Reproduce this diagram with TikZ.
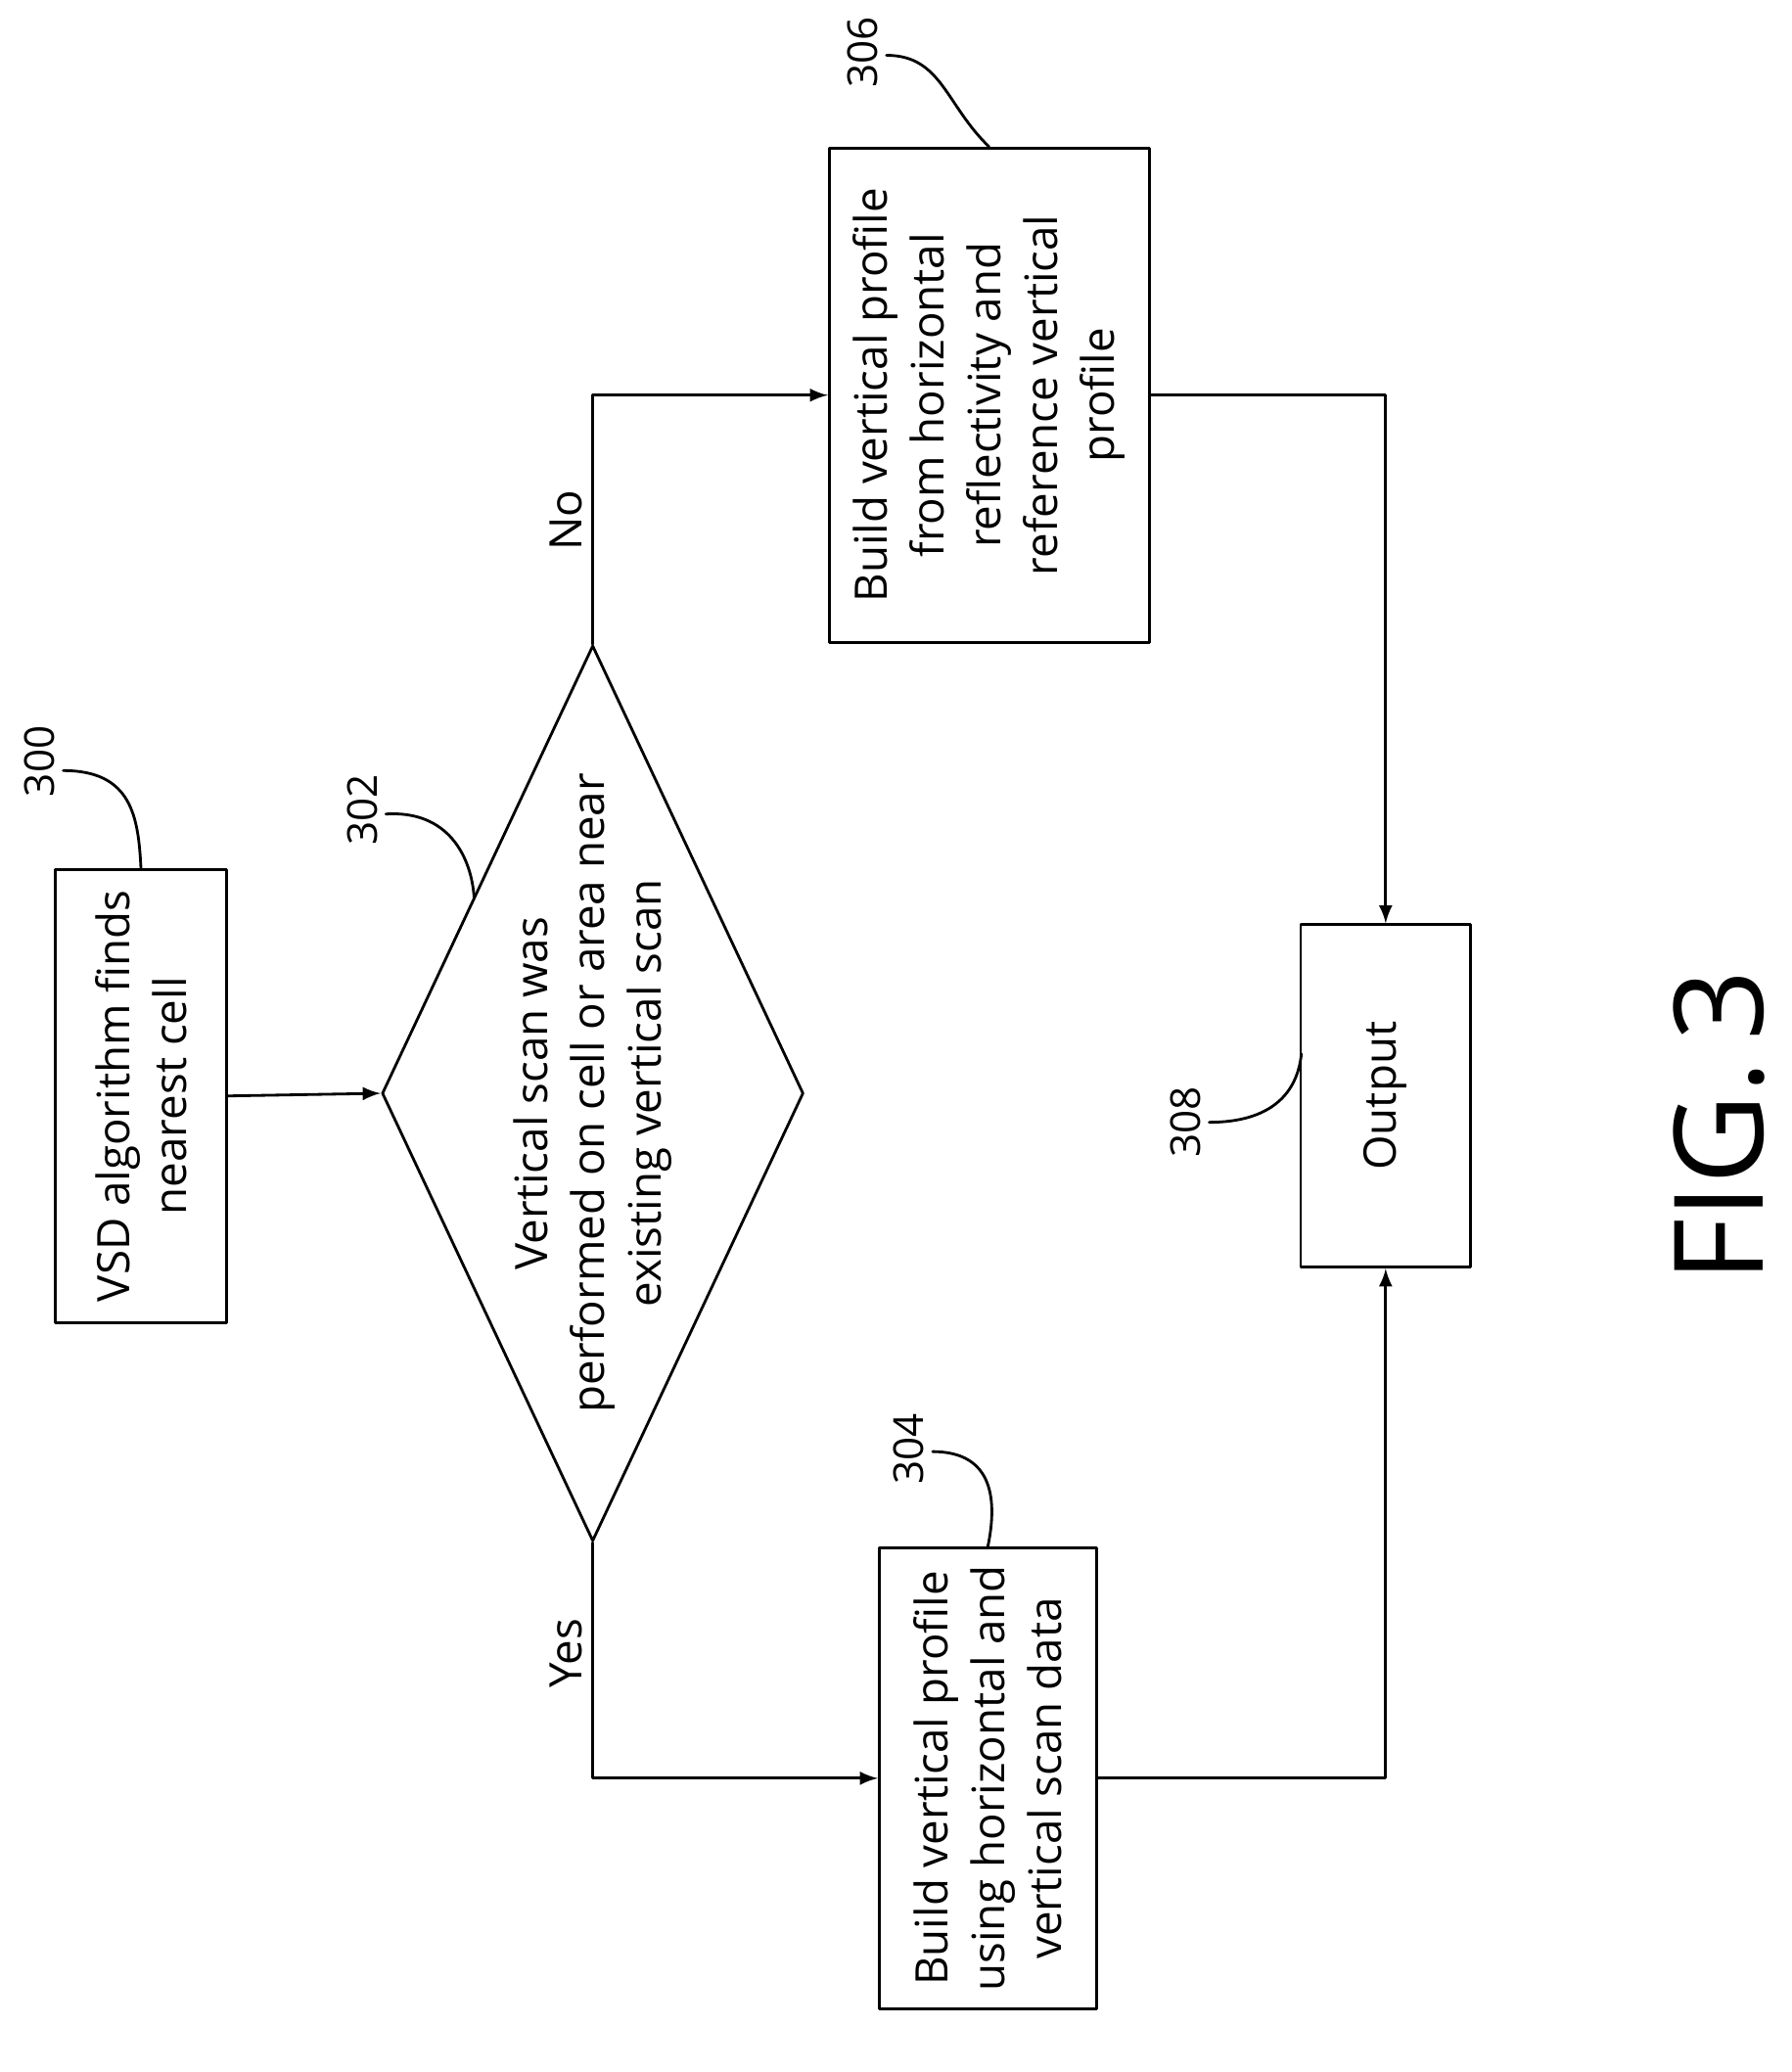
\documentclass[tikz,border=0pt]{standalone}
\usepackage{fontspec}
\setmainfont{Open Sans}
\usetikzlibrary{shapes.geometric}
\def\pxu{0.01346cm}
\tikzset{
  box/.style={draw, thick, rectangle, rotate=90, align=center, inner sep=2pt},
  lbl/.style={rotate=90, font=\fontsize{12}{14}\selectfont},
  flow/.style={thick, -latex},
  lead/.style={thick}
}
\begin{document}
\begin{tikzpicture}[x=\pxu, y=-\pxu, line cap=round, line join=round,
  font=\fontsize{13}{16.5}\selectfont]
  \useasboundingbox (0,0) rectangle (1360,1573);

  % boxes
  \node[box, minimum width=344*\pxu, minimum height=130*\pxu] (find) at (107,832)
    {VSD algorithm finds\\nearest cell};
  \node[draw, thick, diamond, minimum width=320*\pxu, minimum height=680*\pxu,
    inner sep=0pt] (scan) at (450,830) {};
  \node[rotate=90, align=center] (scantxt) at (scan.center)
    {Vertical scan was\\performed on cell or area near\\existing vertical scan};
  \node[box, minimum width=375*\pxu, minimum height=243*\pxu] (refprof) at (751,300)
    {Build vertical profile\\from horizontal\\reflectivity and\\reference vertical\\profile};
  \node[box, minimum width=350*\pxu, minimum height=165*\pxu] (scanprof) at (750,1350)
    {Build vertical profile\\using horizontal and\\vertical scan data};
  \node[box, minimum width=260*\pxu, minimum height=129*\pxu] (out) at (1052,832)
    {Output};

  % connectors
  \draw[flow] (find.south) -- (scan.west);
  \draw[flow] (scan.north) |- (refprof.north);
  \draw[flow] (scan.south) |- (scanprof.north);
  \draw[flow] (refprof.south) -| (out.east);
  \draw[flow] (scanprof.south) -| (out.west);
  \node[rotate=90] (no) at (430,395) {No};
  \node[rotate=90] (yes) at (430,1255) {Yes};

  % reference numerals
  \node[lbl] (n300) at (30,578) {300};
  \draw[lead] (48,585) .. controls (100,585) and (105,620) .. (find.east);
  \node[lbl] (n302) at (275,615) {302};
  \draw[lead] (293,618) .. controls (340,615) and (358,650) .. (360,682);
  \node[lbl] (n304) at (690,1100) {304};
  \draw[lead] (708,1102) .. controls (755,1102) and (757,1140) .. (scanprof.east);
  \node[lbl] (n306) at (655,40) {306};
  \draw[lead] (673,42) .. controls (715,42) and (718,80) .. (refprof.east);
  \node[lbl] (n308) at (900,852) {308};
  \draw[lead] (918,852) .. controls (965,852) and (985,830) .. (988,800);

  \node[rotate=90, font=\fontsize{36}{40}\selectfont] (fig) at (1305,855) {FIG.\,3};
\end{tikzpicture}
\end{document}
